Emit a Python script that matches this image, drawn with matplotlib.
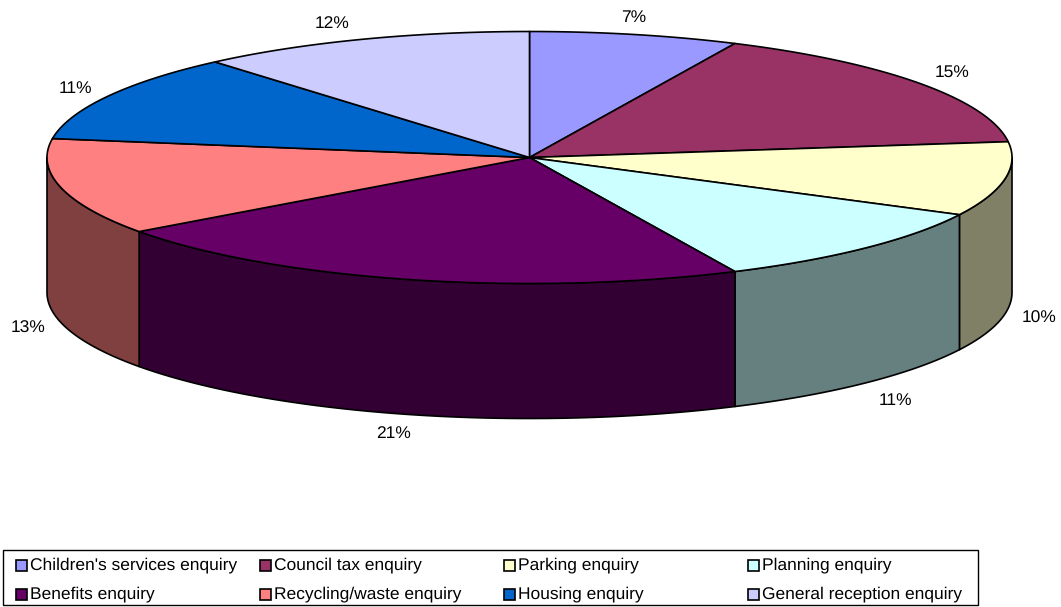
import numpy as np
import matplotlib
matplotlib.use('Agg')
import matplotlib.pyplot as plt
from matplotlib.patches import Polygon, Rectangle

categories = ["Children's services enquiry", "Council tax enquiry", "Parking enquiry", "Planning enquiry",
              "Benefits enquiry", "Recycling/waste enquiry", "Housing enquiry", "General reception enquiry"]
# share of the circle each slice takes in the drawing, percent
shares = [7.0, 16.0, 9.5, 10.5, 22.0, 12.4, 11.3, 11.3]
pct_labels = ['7%', '15%', '10%', '11%', '21%', '13%', '11%', '12%']
colors = ['#9999FF', '#993366', '#FFFFCC', '#CCFFFF', '#660066', '#FF8080', '#0066CC', '#CCCCFF']
side_colors = ['#4D4D80', '#4D1A33', '#808066', '#668080', '#330033', '#804040', '#003366', '#666680']

# pie geometry in figure pixels
cx, cy = 529.5, 157.5
rx, ry = 482.5, 126
depth = 135
label_pos = [(634, 17.5), (952, 72.5), (1039, 318.5), (895, 400.5), (394, 433.5), (28, 328.5), (75, 89), (332, 23.5)]

plt.rcParams['font.family'] = ['Liberation Sans', 'DejaVu Sans']
plt.rcParams['text.hinting'] = 'no_hinting'

fig = plt.figure(figsize=(10.61, 6.07), dpi=100)
ax = fig.add_axes([0, 0, 1, 1])
ax.set_xlim(0, 1061)
ax.set_ylim(607, 0)
ax.axis('off')

def rim(t0, t1, dy=0):
    t = np.radians(np.linspace(t0, t1, 200))
    return np.column_stack((cx + rx * np.sin(t), cy + dy - ry * np.cos(t)))

edges = np.concatenate(([0], np.cumsum(shares))) / np.sum(shares) * 360

# outer wall, only the front half (90..270 degrees) can be seen
for i in range(len(shares)):
    a = max(edges[i], 90)
    b = min(edges[i + 1], 270)
    if a >= b:
        continue
    pts = np.vstack((rim(a, b), rim(b, a, depth)))
    ax.add_patch(Polygon(pts, closed=True, fc=side_colors[i], ec='black', lw=1.2, joinstyle='round'))

# top face
for i in range(len(shares)):
    pts = np.vstack(([[cx, cy]], rim(edges[i], edges[i + 1])))
    ax.add_patch(Polygon(pts, closed=True, fc=colors[i], ec='black', lw=1.2, joinstyle='round'))

for (x, y), s in zip(label_pos, pct_labels):
    ax.text(x, y, s, ha='center', va='center', fontsize=12.5, color='black')

# legend box
ax.add_patch(Rectangle((3, 550), 975, 55, fc='white', ec='black', lw=1.0))
col_x = [15, 259, 503, 747]
row_y = [565, 594]
for i, name in enumerate(categories):
    x = col_x[i % 4]
    y = row_y[i // 4]
    ax.add_patch(Rectangle((x + 0.5, y - 5.5), 11, 11, fc=colors[i], ec='black', lw=1.2))
    ax.text(x + 15, y + 0.5, name, ha='left', va='center', fontsize=12.5, color='black')

fig.savefig('out.png', dpi=100)
